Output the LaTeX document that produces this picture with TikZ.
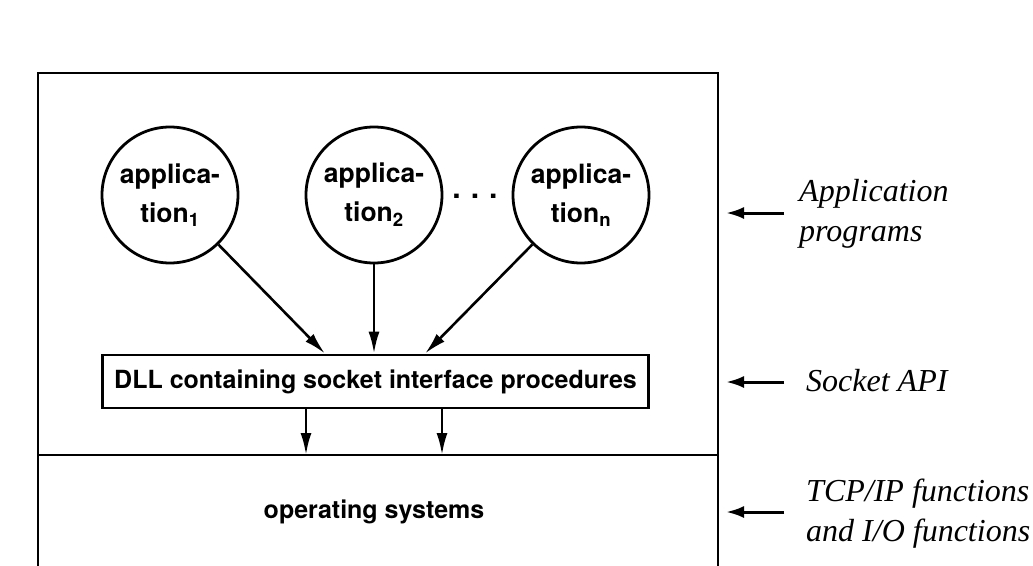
\documentclass[tikz,border=0pt]{standalone}
\usepackage{fontspec}
\setmainfont{Liberation Serif}
\newfontfamily\helv{TeX Gyre Heros}
\usetikzlibrary{arrows.meta}
\tikzset{
  appc/.style={draw, line width=2.8pt, circle, minimum size=136pt, inner sep=0pt, align=center,
    font=\helv\bfseries\fontsize{26.5}{39}\selectfont},
  conn/.style={line width=2.6pt, -{Latex[length=22pt,width=11pt]}},
  side/.style={line width=3pt, -{Latex[length=18pt,width=12pt]}},
  lbl/.style={anchor=west, align=left, font=\itshape\fontsize{32}{40}\selectfont, inner sep=0pt},
  frame/.style={line width=2.8pt}
}
\begin{document}
\begin{tikzpicture}[x=1pt,y=-1pt]
\useasboundingbox (0,0) rectangle (1033,565);
\fill[white] (0,0) rectangle (1033,565);
% outer frame
\coordinate (fbl) at (38,567);
\coordinate (ftl) at (38,73);
\coordinate (ftr) at (718,73);
\coordinate (fbr) at (718,567);
\draw[frame] (fbl) -- (ftl) -- (ftr) -- (fbr);
\coordinate (hl) at (38,455);
\coordinate (hr) at (718,455);
\draw[frame] (hl) -- (hr);
% applications
\node[appc] (a1) at (170,195) {applica-\\tion\textsubscript{1}};
\node[appc] (a2) at (374,195) {applica-\\tion\textsubscript{2}};
\node[appc] (an) at (581,195) {applica-\\tion\textsubscript{n}};
\node[font=\helv\bfseries\fontsize{30}{30}\selectfont, inner sep=0pt] (dots) at (475,196) {.\,\,.\,\,.};
% DLL
\node[draw, line width=2.8pt, minimum width=546pt, minimum height=53pt, inner sep=0pt,
  font=\helv\bfseries\fontsize{25}{28}\selectfont] (dll) at (375.5,381.5) {DLL containing socket interface procedures};
\draw[conn] (a1) -- (dll.north -| 325,0);
\draw[conn] (a2) -- (dll.north -| 374,0);
\draw[conn] (an) -- (dll.north -| 425,0);
\coordinate (t1) at (306,455);
\coordinate (t2) at (442,455);
\draw[conn] (dll.south -| t1) -- (t1);
\draw[conn] (dll.south -| t2) -- (t2);
\node[font=\helv\bfseries\fontsize{25}{28}\selectfont, inner sep=0pt] (os) at (374,512) {operating systems};
% side labels
\node[lbl] (lapp) at (799,214) {Application\\programs};
\node[lbl] (lsock) at (806,381) {Socket API};
\node[lbl] (ltcp) at (806,514) {TCP/IP functions\\and I/O functions};
\coordinate (s1) at (784,213);
\coordinate (s2) at (784,382);
\coordinate (s3) at (784,512);
\draw[side] (s1) -- ++(-58,0);
\draw[side] (s2) -- ++(-58,0);
\draw[side] (s3) -- ++(-58,0);
\end{tikzpicture}
\end{document}
